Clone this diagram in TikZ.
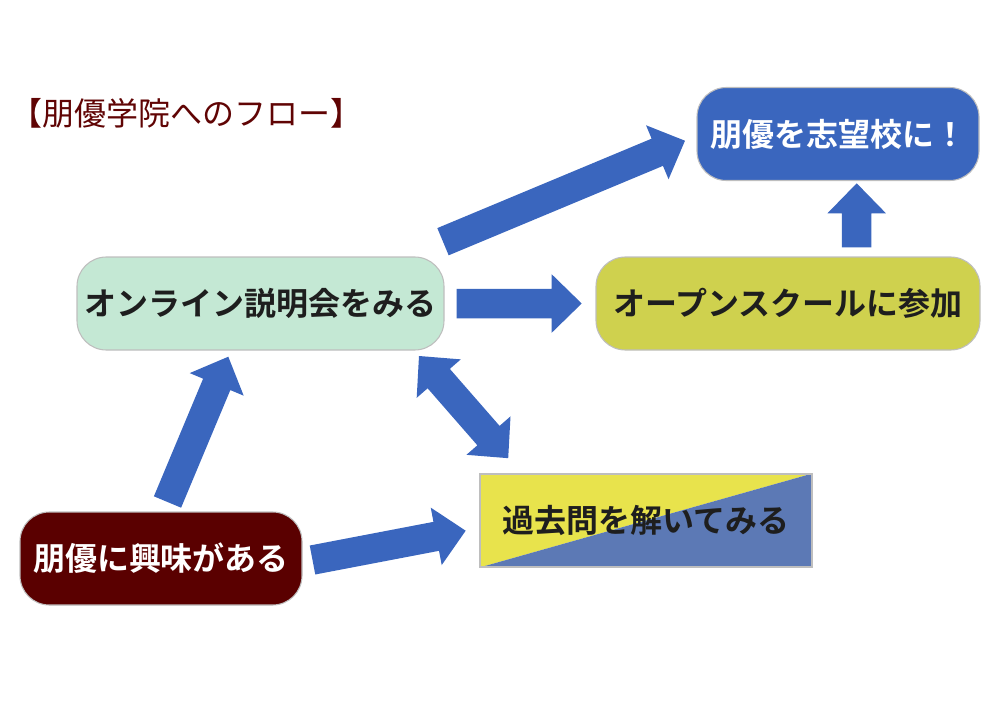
\documentclass[tikz,border=0pt]{standalone}
\usepackage{fontspec}
\setmainfont{Noto Sans CJK JP}[BoldFont={Noto Sans CJK JP Bold}]
\usetikzlibrary{calc,backgrounds}
\definecolor{arrowblue}{RGB}{58,102,190}
\definecolor{goalblue}{RGB}{58,102,190}
\definecolor{openyellow}{RGB}{207,209,78}
\definecolor{onlinegreen}{RGB}{196,232,212}
\definecolor{darkred}{RGB}{90,0,0}
\definecolor{titlered}{RGB}{96,4,4}
\definecolor{splityellow}{RGB}{232,227,76}
\definecolor{splitblue}{RGB}{92,121,181}
\definecolor{boxline}{RGB}{190,190,190}
\definecolor{textdark}{RGB}{30,30,30}
\def\sw{11.06pt}\def\hw{21.94pt}\def\hl{22.5pt}
\newcommand\blockarr[2]{%
  \fill[arrowfill] let \p1=(#1), \p2=(#2), \n1={atan2(\y2-\y1,\x2-\x1)}, \n2={veclen(\x2-\x1,\y2-\y1)} in
  [shift={(\p1)}, rotate=\n1]
  (0pt,\sw) -- (\n2-\hl,\sw) -- (\n2-\hl,\hw) -- (\n2,0pt) -- (\n2-\hl,-\hw)
  -- (\n2-\hl,-\sw) -- (0pt,-\sw) -- cycle;}
\newcommand\doubleblockarr[2]{%
  \fill[arrowfill] let \p1=(#1), \p2=(#2), \n1={atan2(\y2-\y1,\x2-\x1)}, \n2={veclen(\x2-\x1,\y2-\y1)} in
  [shift={(\p1)}, rotate=\n1]
  (0pt,0pt) -- (\hl,\hw) -- (\hl,\sw) -- (\n2-\hl,\sw) -- (\n2-\hl,\hw) -- (\n2,0pt) -- (\n2-\hl,-\hw)
  -- (\n2-\hl,-\sw) -- (\hl,-\sw) -- (\hl,-\hw) -- cycle;}
\tikzset{
  arrowfill/.style={fill=arrowblue},
  flowbox/.style={rectangle, rounded corners=22pt, draw=boxline, line width=0.8pt,
    minimum height=69.75pt, inner sep=0pt,
    font=\fontsize{24pt}{28pt}\selectfont\bfseries},
  splitbox/.style={rectangle, draw=boxline, line width=0.8pt,
    minimum height=69.75pt, minimum width=249pt, inner sep=0pt,
    font=\fontsize{24pt}{28pt}\selectfont\bfseries, text=textdark},
  titletext/.style={anchor=west, inner sep=0pt, text=titlered,
    font=\fontsize{24pt}{28pt}\selectfont}
}
\begin{document}
\begin{tikzpicture}[x=0.75pt, y=-0.75pt]
\useasboundingbox (0,0) rectangle (1000,707);
% title
\node[titletext] (title) at (10,113) {【朋優学院へのフロー】};
% boxes
\node[flowbox, fill=goalblue, text=white, minimum width=211.5pt] (goal) at (838,134) {朋優を志望校に！};
\node[flowbox, fill=openyellow, text=textdark, minimum width=288pt] (open) at (788,303.5) {オープンスクールに参加};
\node[flowbox, fill=onlinegreen, text=textdark, minimum width=275.25pt] (online) at (260.5,303.5) {オンライン説明会をみる};
\node[flowbox, fill=darkred, text=white, minimum width=211.5pt] (interest) at (161,558.5) {朋優に興味がある};
\node[splitbox] (past) at (646,520.5) {過去問を解いてみる};
\begin{pgfonlayer}{background}
  \fill[splityellow] (past.north west) -- (past.north east) -- (past.south west) -- cycle;
  \fill[splitblue] (past.north east) -- (past.south east) -- (past.south west) -- cycle;
\end{pgfonlayer}
% arrow end points
\coordinate (a1s) at (443,241.7);   \coordinate (a1e) at (685,140.7);
\coordinate (a2s) at (456.7,303.5); \coordinate (a2e) at (581.7,303.5);
\coordinate (a3s) at (856.7,247.3); \coordinate (a3e) at (856.7,183.3);
\coordinate (a4s) at (167.5,502);   \coordinate (a4e) at (228.3,356.7);
\coordinate (a5s) at (312.5,560);   \coordinate (a5e) at (465.7,530.7);
\coordinate (a6s) at (419,356);     \coordinate (a6e) at (508.3,458.3);
% arrows
\blockarr{a1s}{a1e}
\blockarr{a2s}{a2e}
\blockarr{a3s}{a3e}
\blockarr{a4s}{a4e}
\blockarr{a5s}{a5e}
\doubleblockarr{a6s}{a6e}
\end{tikzpicture}
\end{document}
